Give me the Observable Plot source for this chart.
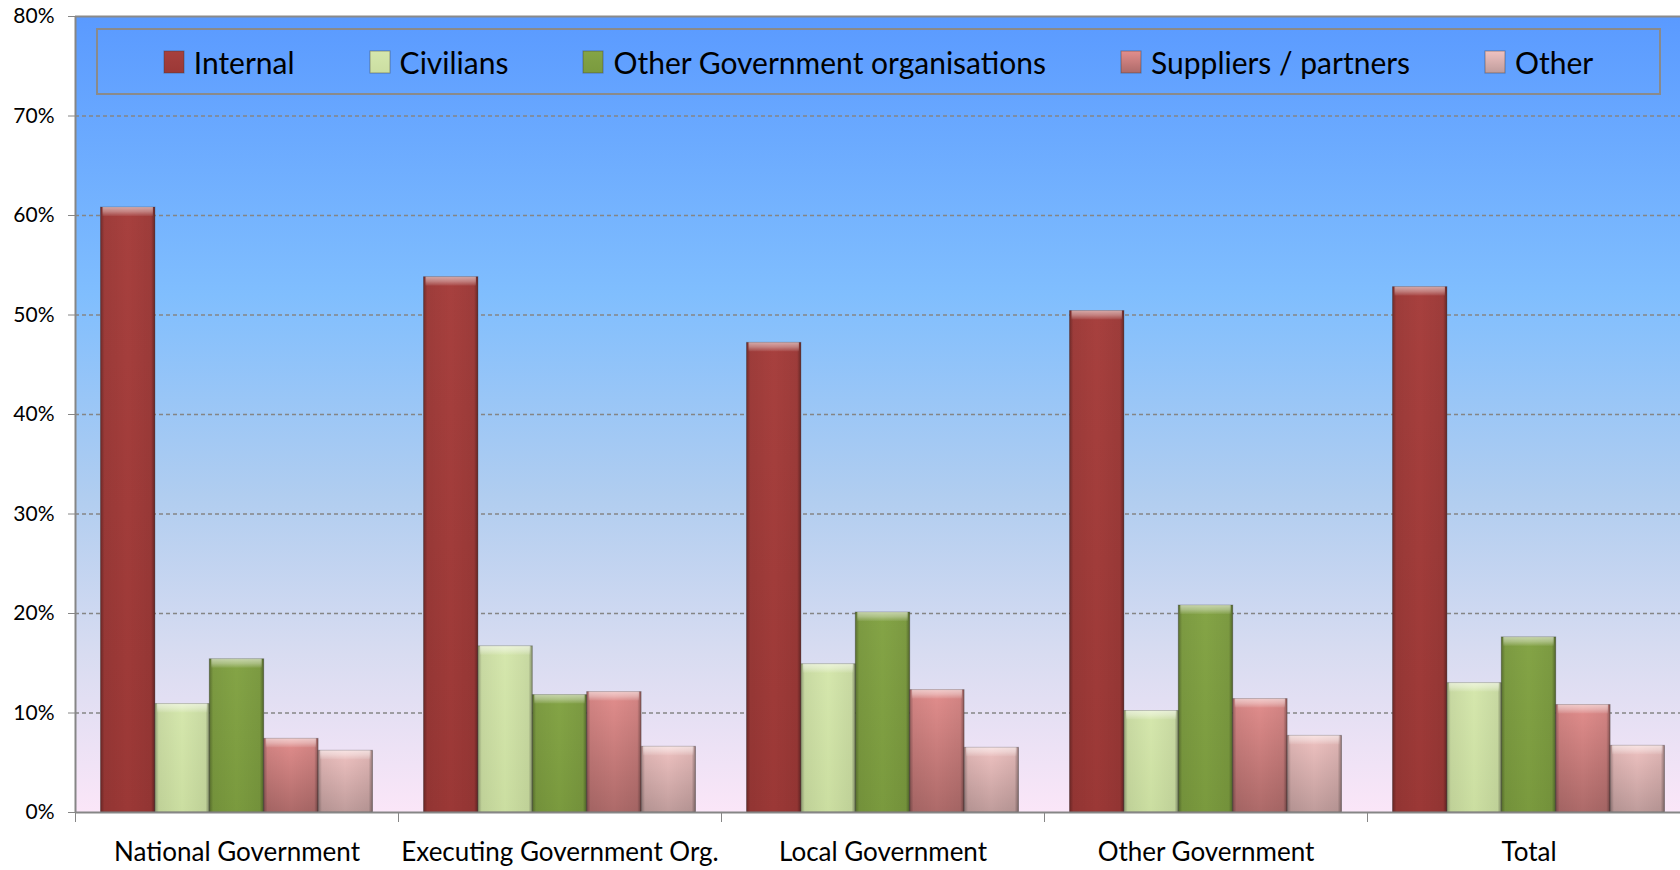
<!DOCTYPE html>
<html>
<head>
<meta charset="utf-8">
<script src="https://cdn.jsdelivr.net/npm/d3@7"></script>
<script src="https://cdn.jsdelivr.net/npm/@observablehq/plot@0.6"></script>
<style>
  html, body { margin: 0; padding: 0; background: #ffffff; }
  #wrap { position: relative; width: 1680px; height: 870px; overflow: hidden; font-family: Lato, sans-serif; }
  #legend {
    position: absolute; left: 96px; top: 28px; width: 1561px; height: 63px;
    border: 2px solid #8a8a8a; display: flex; align-items: center; justify-content: center;
  }
  #legend .lg-swatches { margin: 0; font-family: Lato, sans-serif; font-size: 30px; color: #000; }
  #legend .lg-swatches-wrap { display: flex; align-items: center; justify-content: center; gap: 75px; min-height: 0; flex-wrap: nowrap; }
  #legend .lg-swatch { margin: 0; display: inline-flex; align-items: center; white-space: nowrap; }
  #legend .lg-swatch > svg { margin-right: 10px; }
  #legend .lg-swatch > svg rect { stroke: rgba(60,60,60,0.45); stroke-width: 1px; }
</style>
</head>
<body>
<div id="wrap"><div id="chart"></div><div id="legend"></div></div>
<script>
// ---- data ----
const categories = ["National Government", "Executing Government Org.", "Local Government", "Other Government", "Total"];
const series = ["Internal", "Civilians", "Other Government organisations", "Suppliers / partners", "Other"];
const internal  = [60.8, 53.8, 47.2, 50.4, 52.8];
const civilians = [10.9, 16.7, 14.9, 10.2, 13.0];
const otherGov  = [15.4, 11.8, 20.1, 20.8, 17.6];
const suppliers = [7.4, 12.1, 12.3, 11.4, 10.8];
const other     = [6.2, 6.6, 6.5, 7.7, 6.7];
const yTicks = [0, 0.1, 0.2, 0.3, 0.4, 0.5, 0.6, 0.7, 0.8];

// ---- table built from the arrays ----
const seriesValues = [internal, civilians, otherGov, suppliers, other];
const rows = categories.flatMap((c, i) => series.map((s, j) => ({
  category: c, ci: i, series: s, sj: j, value: seriesValues[j][i] / 100
})));

// ---- styles ----
const groupPad = 0.079;                       // fraction of a category band left empty on each side
const barW = (1 - 2 * groupPad) / series.length;
const gradIds = ["gInternal", "gCivilians", "gOtherGov", "gSuppliers", "gOther"];
const gradStops = [
  ["#a7403e", "#9b3836"],
  ["#d5e7ad", "#cbdea1"],
  ["#84a446", "#7a9a3e"],
  ["#e28e8d", "#ad6a69"],
  ["#efc2c1", "#bf9c9b"]
];
const fills = gradIds.map(id => `url(#${id})`);

const chart = Plot.plot({
  width: 1680,
  height: 870,
  marginLeft: 75,
  marginRight: 0,
  marginTop: 16,
  marginBottom: 58,
  x: {domain: [0, categories.length], range: [75, 1690], axis: null, label: null},
  y: {domain: [0, 0.8], axis: null, label: null},
  color: {domain: series, range: fills},
  style: {fontFamily: "Lato, sans-serif", background: "transparent", color: "#000", overflow: "hidden"},
  marks: [
    Plot.frame({fill: "url(#bgGrad)", stroke: null}),
    Plot.ruleY(yTicks.filter(t => t > 0 && t < 0.8), {stroke: "#858585", strokeWidth: 1.3, strokeDasharray: "4,3"}),
    Plot.ruleY([0.8], {stroke: "#8a8a8a", strokeWidth: 2}),
    Plot.rectY(rows, {
      x1: d => d.ci + groupPad + d.sj * barW,
      x2: d => d.ci + groupPad + (d.sj + 1) * barW,
      y1: 0, y2: "value", fill: "series",
      stroke: "#3a3a3a", strokeOpacity: 0.35, strokeWidth: 1
    }),
    Plot.rectY(rows, {
      x1: d => d.ci + groupPad + d.sj * barW,
      x2: d => d.ci + groupPad + (d.sj + 1) * barW,
      y1: 0, y2: "value", fill: "url(#edgeGrad)"
    }),
    Plot.rectY(rows, {
      x1: d => d.ci + groupPad + d.sj * barW,
      x2: d => d.ci + groupPad + (d.sj + 1) * barW,
      y1: "value", y2: "value", insetBottom: -9, insetLeft: 2, insetRight: 2,
      fill: "url(#bevelGrad)"
    }),
    Plot.ruleY([0], {stroke: "#868686", strokeWidth: 2}),
    Plot.ruleX([0], {stroke: "#868686", strokeWidth: 2}),
    Plot.axisY({ticks: yTicks, tickFormat: d3.format(".0%"), tickSize: 7, tickPadding: 14, fontSize: 21,
      stroke: "#868686", fill: "#000", label: null}),
    Plot.axisX({ticks: [0, 1, 2, 3, 4], tickSize: 10, tickFormat: () => "", stroke: "#868686", label: null}),
    Plot.axisX({ticks: categories.map((c, i) => i + 0.5), tickSize: 0, tickPadding: 30, fontSize: 26,
      tickFormat: v => categories[Math.floor(v)], fill: "#000", label: null})
  ]
});

// gradient definitions
const svg = d3.select(chart.tagName.toLowerCase() === "svg" ? chart : chart.querySelector("svg"));
const defs = svg.insert("defs", ":first-child");
const bg = defs.append("linearGradient").attr("id", "bgGrad").attr("x1", 0).attr("y1", 0).attr("x2", 0).attr("y2", 1);
[[0, "#5a9aff"], [0.35, "#80befe"], [0.6, "#b0cdf0"], [0.8, "#d8dcf1"], [1, "#fbe6f8"]]
  .forEach(([o, c]) => bg.append("stop").attr("offset", o).attr("stop-color", c));
gradIds.forEach((id, k) => {
  const g = defs.append("linearGradient").attr("id", id).attr("x1", 0).attr("y1", 0).attr("x2", 0).attr("y2", 1);
  g.append("stop").attr("offset", 0).attr("stop-color", gradStops[k][0]);
  g.append("stop").attr("offset", 1).attr("stop-color", gradStops[k][1]);
});
const edge = defs.append("linearGradient").attr("id", "edgeGrad").attr("x1", 0).attr("y1", 0).attr("x2", 1).attr("y2", 0);
[[0, 0.32], [0.07, 0.06], [0.5, 0], [0.93, 0.06], [1, 0.38]]
  .forEach(([o, a]) => edge.append("stop").attr("offset", o).attr("stop-color", "#000").attr("stop-opacity", a));
const bevel = defs.append("linearGradient").attr("id", "bevelGrad").attr("x1", 0).attr("y1", 0).attr("x2", 0).attr("y2", 1);
[[0, 0.55], [0.5, 0.35], [1, 0.05]]
  .forEach(([o, a]) => bevel.append("stop").attr("offset", o).attr("stop-color", "#fff").attr("stop-opacity", a));

document.getElementById("chart").appendChild(chart);

const legend = chart.legend("color", {swatchWidth: 20, swatchHeight: 22, className: "lg"});
document.getElementById("legend").appendChild(legend);
</script>
</body>
</html>
